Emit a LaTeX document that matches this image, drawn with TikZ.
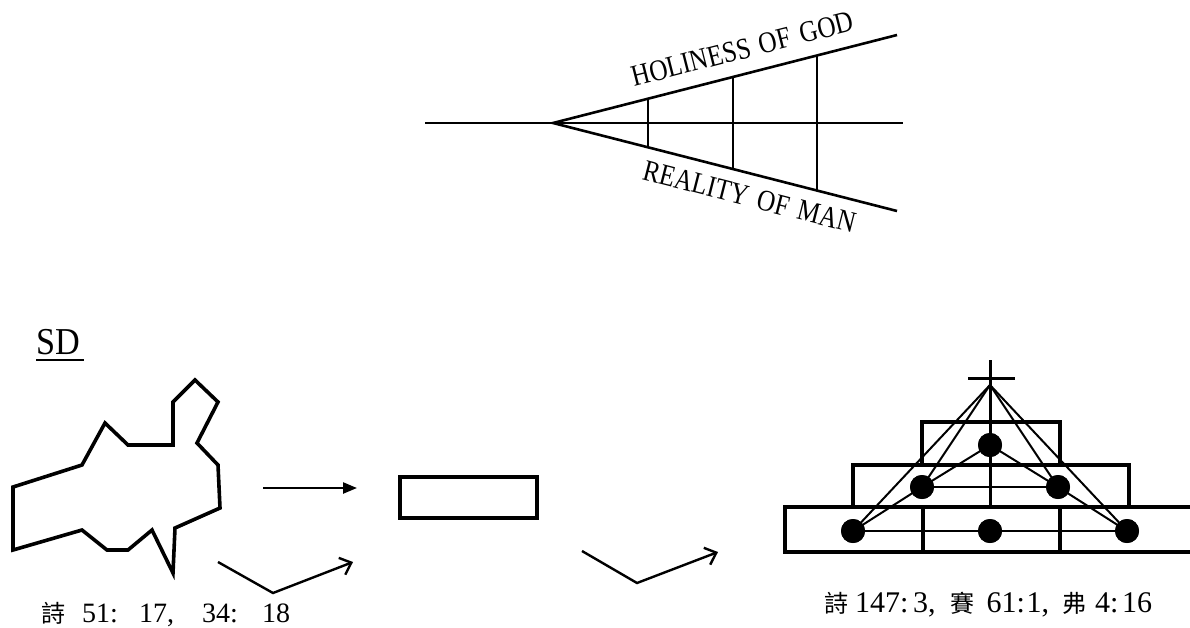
\documentclass[tikz,border=0pt]{standalone}
\usepackage{graphicx}
\usepackage{fontspec}
\setmainfont{Liberation Serif}
\newfontfamily\cjk{Noto Sans CJK TC}
\newcommand\bx[2]{\makebox[#1pt][l]{#2}}
\newcommand\cj[1]{{\cjk\fontsize{24}{24}\selectfont #1}}
\newcommand\cond[1]{\scalebox{0.84}[1]{#1}}
\usetikzlibrary{arrows.meta}
\begin{document}
\begin{tikzpicture}[x=1pt,y=-1pt,
  thinln/.style={line width=1.8pt},
  slant/.style={line width=2.6pt},
  shapeln/.style={line width=3.6pt, line join=miter},
  arrln/.style={line width=2.4pt},
  boxln/.style={line width=3.2pt},
  dot/.style={circle, fill=black, minimum size=24pt, inner sep=0pt},
  lbl/.style={font=\fontsize{30}{30}\selectfont, inner sep=0pt},
  ref/.style={inner sep=0pt, anchor=base west}]
\useasboundingbox (0,0) rectangle (1190,627);
\fill[white] (0,0) rectangle (1190,627);

% ---- top wedge ----
\coordinate (hl) at (425,123);
\coordinate (hr) at (903,123);
\coordinate (apex) at (553,123);
\coordinate (ue) at (897,35);
\coordinate (le) at (897,211);
\draw[thinln] (hl) -- (hr);
\draw[slant] (ue) -- (apex) -- (le);
\foreach \x [count=\i] in {648,733,817}{
  \coordinate (vt\i) at (\x,{123-(\x-553)*0.2558});
  \coordinate (vb\i) at (\x,{123+(\x-553)*0.2558});
  \draw[thinln] (vt\i) -- (vb\i);
}
\coordinate (ht) at (745,58.5);
\node[lbl, rotate=14.3, anchor=base] (holy) at (ht) {\cond{HOLINESS\hspace{4pt} OF\hspace{4pt} GOD}};
\coordinate (rt) at (752,187);
\node[lbl, rotate=-14.3, anchor=north] (real) at (rt) {\cond{REALITY\hspace{4pt} OF\hspace{4pt} MAN}};

% ---- SD ----
\node[font=\fontsize{38}{38}\selectfont, inner sep=0pt, anchor=base west] (sd) at (36,354) {\scalebox{0.9}[1]{SD}};
\coordinate (u1) at (36,360);
\coordinate (u2) at (84,360);
\draw[line width=2pt] (u1) -- (u2);

% ---- broken heart polygon ----
\draw[shapeln] (13,487) -- (82,465) -- (105,423) -- (128,445) -- (173,445)
  -- (173,402) -- (195,380) -- (218,402) -- (197,443) -- (218,465)
  -- (220,508) -- (175,528) -- (173,573) -- (152,530) -- (128,550)
  -- (107,550) -- (82,530) -- (13,550) -- cycle;

% ---- arrows ----
\coordinate (a1s) at (263,488);
\coordinate (a1e) at (357,488);
\draw[arrln, -{Triangle[length=14pt,width=11pt]}] (a1s) -- (a1e);

\coordinate (a2s) at (218,562);
\coordinate (a2m) at (273,593);
\coordinate (a2e) at (353,562);
\draw[arrln, line join=miter, -{Straight Barb[length=10pt,width=18pt,line width=2.4pt]}] (a2s) -- (a2m) -- (a2e);

\coordinate (a3s) at (582,551);
\coordinate (a3m) at (637,583);
\coordinate (a3e) at (718,552);
\draw[arrln, line join=miter, -{Straight Barb[length=10pt,width=18pt,line width=2.4pt]}] (a3s) -- (a3m) -- (a3e);

% ---- rectangle ----
\draw[boxln] (400,477) rectangle (537,518);

% ---- pyramid ----
\draw[boxln] (785,507) rectangle (1200,552);
\draw[boxln] (853,465) rectangle (1129,507);
\draw[boxln] (922,422) rectangle (1060,465);
\draw[boxln] (923,507) -- (923,552);
\draw[boxln] (1060,507) -- (1060,552);
\coordinate (ctop) at (990,360);
\coordinate (cbot) at (990,507);
\draw[line width=3pt] (ctop) -- (cbot);
\coordinate (cl) at (968,378);
\coordinate (cr) at (1015,378);
\draw[line width=3pt] (cl) -- (cr);
\coordinate (top) at (990,385);

\node[dot] (d0) at (990,445) {};
\node[dot] (d1) at (922,487) {};
\node[dot] (d2) at (1058,487) {};
\node[dot] (d3) at (853,531) {};
\node[dot] (d4) at (990,531) {};
\node[dot] (d5) at (1127,531) {};

\draw[line width=1.8pt] (d3.center) -- (d5.center);
\draw[line width=1.8pt] (d1.center) -- (d2.center);
\draw[line width=2pt] (top) -- (d3.center);
\draw[line width=2pt] (top) -- (d1.center);
\draw[line width=2pt] (top) -- (d2.center);
\draw[line width=2pt] (top) -- (d5.center);
\draw[line width=2pt] (d0.center) -- (d1.center) -- (d3.center);
\draw[line width=2pt] (d0.center) -- (d2.center) -- (d5.center);
\foreach \n in {d0,d1,d2,d3,d4,d5}{\node[dot] at (\n) {};}

% ---- references ----
\node[ref, font=\fontsize{28}{28}\selectfont] (r1) at (41,622) {\cj{詩}\hspace{17pt}51\bx{12}{:}\hspace{17pt}17\bx{9}{,}\hspace{26pt}34\bx{12}{:}\hspace{20pt}18};
\node[ref, font=\fontsize{30}{30}\selectfont] (r2) at (824,612) {\cj{詩}\hspace{7pt}147\bx{13}{:}3\bx{7.5}{,}\hspace{15pt}\cj{賽}\hspace{12pt}61\bx{10}{:}1\bx{7.5}{,}\hspace{13pt}\cj{弗}\hspace{9pt}4\bx{12}{:}16};
\end{tikzpicture}
\end{document}
